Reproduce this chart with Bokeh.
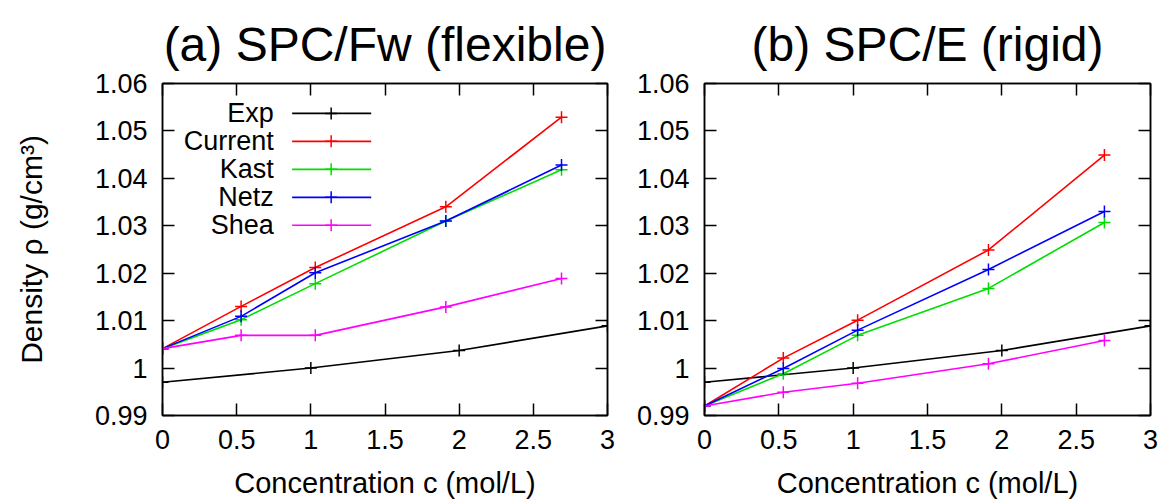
from bokeh.plotting import figure
from bokeh.models import LinearAxis, FixedTicker, Range1d
from bokeh.layouts import row
from bokeh.core.properties import value
from bokeh.embed import file_html
from bokeh.resources import INLINE

# ---------------- data ----------------
conc = [0.0, 0.53, 1.03, 1.91, 2.69]
exp_conc = [0.0, 1.0, 2.0, 3.0]
exp_density = [0.9970, 1.0000, 1.0037, 1.0089]

a_current = [1.0041, 1.0130, 1.0212, 1.0340, 1.0529]
a_kast = [1.0041, 1.0102, 1.0178, 1.0310, 1.0418]
a_netz = [1.0041, 1.0109, 1.0201, 1.0310, 1.0428]
a_shea = [1.0041, 1.0069, 1.0069, 1.0129, 1.0189]

b_current = [0.9920, 1.0021, 1.0101, 1.0249, 1.0449]
b_kast = [0.9920, 0.9988, 1.0069, 1.0168, 1.0307]
b_netz = [0.9920, 0.9999, 1.0080, 1.0208, 1.0330]
b_shea = [0.9920, 0.9949, 0.9968, 1.0009, 1.0058]

series_names = ["Exp", "Current", "Kast", "Netz", "Shea"]
series_colors = ["#000000", "#ff0000", "#00dd00", "#0000ff", "#ff00ff"]

x_ticks = [0.0, 0.5, 1.0, 1.5, 2.0, 2.5, 3.0]
x_tick_labels = ["0", "0.5", "1", "1.5", "2", "2.5", "3"]
y_ticks = [0.99, 1.0, 1.01, 1.02, 1.03, 1.04, 1.05, 1.06]
y_tick_labels = ["0.99", "1", "1.01", "1.02", "1.03", "1.04", "1.05", "1.06"]

titles = ["(a) SPC/Fw (flexible)", "(b) SPC/E (rigid)"]
x_label = "Concentration c (mol/L)"
y_label = "Density ρ (g/cm³)"

FONT = "Liberation Sans"
TICK_FS = "27px"


def style_axis(ax, ticks, labels, show_labels=True):
    ax.ticker = FixedTicker(ticks=ticks)
    ax.major_label_overrides = {t: l for t, l in zip(ticks, labels)}
    ax.major_tick_in = 12
    ax.major_tick_out = 0
    ax.major_tick_line_color = "black"
    ax.major_tick_line_width = 1.5
    ax.minor_tick_line_color = None
    ax.axis_line_color = "black"
    ax.axis_line_width = 1.5
    ax.major_label_text_font = FONT
    ax.major_label_text_font_size = TICK_FS
    if show_labels:
        ax.major_label_text_color = "black"
    else:
        ax.major_label_text_color = None
        ax.major_label_standoff = 0


def make_panel(title, ys, show_ylabel, border_left, border_right, legend):
    p = figure(
        frame_width=445 if show_ylabel else 446,
        frame_height=332,
        x_range=Range1d(0, 3),
        y_range=Range1d(0.99, 1.06),
        output_backend="svg",
        toolbar_location=None,
        min_border_left=border_left,
        min_border_right=border_right,
        min_border_top=83,
        min_border_bottom=80,
        background_fill_color="white",
        border_fill_color="white",
    )
    p.outline_line_color = "black"
    p.outline_line_width = 1.5
    p.xgrid.visible = False
    p.ygrid.visible = False

    p.title.text = title
    p.title.align = "center"
    p.title.text_font = FONT
    p.title.text_font_size = "48px"
    p.title.text_font_style = "normal"
    p.title.text_color = "black"
    p.title.standoff = 26

    style_axis(p.xaxis[0], x_ticks, x_tick_labels)
    style_axis(p.yaxis[0], y_ticks, y_tick_labels)
    p.xaxis[0].major_label_standoff = 14
    p.yaxis[0].major_label_standoff = 15
    p.xaxis[0].axis_label = x_label
    p.xaxis[0].axis_label_text_font = FONT
    p.xaxis[0].axis_label_text_font_size = "29px"
    p.xaxis[0].axis_label_text_font_style = "normal"
    p.xaxis[0].axis_label_text_color = "black"
    p.xaxis[0].axis_label_standoff = 15
    if show_ylabel:
        p.yaxis[0].axis_label = y_label
        p.yaxis[0].axis_label_text_font = FONT
        p.yaxis[0].axis_label_text_font_size = "30px"
        p.yaxis[0].axis_label_text_font_style = "normal"
        p.yaxis[0].axis_label_text_color = "black"
        p.yaxis[0].axis_label_standoff = 44

    top = LinearAxis()
    style_axis(top, x_ticks, x_tick_labels, show_labels=False)
    p.add_layout(top, "above")
    right = LinearAxis()
    style_axis(right, y_ticks, y_tick_labels, show_labels=False)
    p.add_layout(right, "right")

    # series
    p.line(exp_conc, exp_density, color=series_colors[0], line_width=1.6)
    p.scatter(exp_conc, exp_density, marker="cross", size=12,
              line_color=series_colors[0], line_width=1.5)
    for yv, c in zip(ys, series_colors[1:]):
        p.line(conc, yv, color=c, line_width=1.6)
        p.scatter(conc, yv, marker="cross", size=12, line_color=c, line_width=1.5)

    if legend:
        rows = [1.0537, 1.0478, 1.0419, 1.0360, 1.0301]
        p.text(x=[0.75] * 5, y=rows, text=series_names, text_align="right",
               text_baseline="middle", text_font=value(FONT),
               text_font_size="27px", text_color="black")
        p.segment(x0=[0.874] * 5, y0=rows, x1=[1.407] * 5, y1=rows,
                  line_color=series_colors, line_width=1.6)
        p.scatter(x=[1.137] * 5, y=rows, marker="cross", size=12,
                  line_color=series_colors, line_width=1.5)
    return p


p1 = make_panel(titles[0], [a_current, a_kast, a_netz, a_shea], True, 162, 10, True)
p2 = make_panel(titles[1], [b_current, b_kast, b_netz, b_shea], False, 87, 12, False)

layout = row(p1, p2)
open("out.html", "w").write(file_html(layout, INLINE))
